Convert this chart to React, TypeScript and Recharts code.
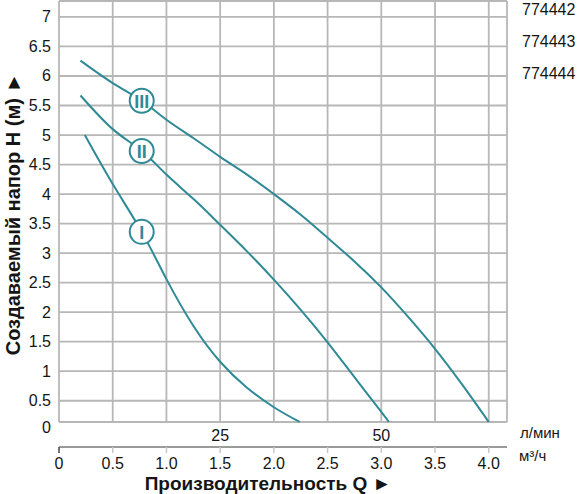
import React from 'react';
import { LineChart, Line, XAxis, YAxis, CartesianGrid, ReferenceArea } from 'recharts';

// flow Q (m³/h) vs head H (m)
const CURVE_I = [
  { q: 0.24, h: 5.0 },
  { q: 0.5, h: 4.17 },
  { q: 0.77, h: 3.36, tag: 'I' },
  { q: 1.0, h: 2.56 },
  { q: 1.25, h: 1.77 },
  { q: 1.5, h: 1.16 },
  { q: 1.75, h: 0.72 },
  { q: 2.0, h: 0.39 },
  { q: 2.24, h: 0.14 },
];

const CURVE_II = [
  { q: 0.2, h: 5.67 },
  { q: 0.5, h: 5.1 },
  { q: 0.77, h: 4.73, tag: 'II' },
  { q: 1.0, h: 4.33 },
  { q: 1.25, h: 3.92 },
  { q: 1.5, h: 3.48 },
  { q: 1.75, h: 3.03 },
  { q: 2.0, h: 2.55 },
  { q: 2.25, h: 2.04 },
  { q: 2.5, h: 1.49 },
  { q: 2.75, h: 0.9 },
  { q: 3.0, h: 0.31 },
  { q: 3.07, h: 0.14 },
];

const CURVE_III = [
  { q: 0.2, h: 6.26 },
  { q: 0.5, h: 5.88 },
  { q: 0.77, h: 5.58, tag: 'III' },
  { q: 1.0, h: 5.26 },
  { q: 1.25, h: 4.95 },
  { q: 1.5, h: 4.63 },
  { q: 1.75, h: 4.33 },
  { q: 2.0, h: 4.0 },
  { q: 2.25, h: 3.65 },
  { q: 2.5, h: 3.26 },
  { q: 2.75, h: 2.86 },
  { q: 3.0, h: 2.42 },
  { q: 3.25, h: 1.92 },
  { q: 3.5, h: 1.38 },
  { q: 3.75, h: 0.78 },
  { q: 4.0, h: 0.14 },
];

const Q_TICKS = [0, 0.5, 1, 1.5, 2, 2.5, 3, 3.5, 4];
const Q_LABELS = ['0', '0.5', '1.0', '1.5', '2.0', '2.5', '3.0', '3.5', '4.0'];
const LPM_TICKS = [1.5, 3.0];
const LPM_LABELS = ['25', '50'];
const H_TICKS = [0, 0.5, 1, 1.5, 2, 2.5, 3, 3.5, 4, 4.5, 5, 5.5, 6, 6.5, 7];
const MODELS = ['774442', '774443', '774444'];

const Q_MAX = 4.17;
const H_MIN = 0.14; // the frame's bottom edge
const H_MAX = 7.27;

const TEAL = '#2f8a96';
const GRID = '#b7b7b7';
const INK = '#151515';
const FONT = '"Liberation Sans", Arial, sans-serif';

const YTick = ({ x, y, payload }: any) => {
  const isZero = payload.value <= H_MIN;
  return (
    <text x={x} y={isZero ? y + 5 : y} textAnchor="end" dominantBaseline="central" fill={INK} fontSize={16} fontFamily={FONT}>
      {isZero ? '0' : String(payload.value)}
    </text>
  );
};

const QTick = ({ x, y, payload }: any) => {
  const i = Q_TICKS.indexOf(payload.value);
  return (
    <g>
      <line x1={x} x2={x} y1={y} y2={y + 6} stroke={i === 0 ? '#444' : '#c8c8c8'} strokeWidth={1.5} />
      <text x={x} y={y + 16} textAnchor="middle" dominantBaseline="central" fill={INK} fontSize={16} fontFamily={FONT}>
        {Q_LABELS[i]}
      </text>
    </g>
  );
};

const LpmTick = ({ x, y, payload }: any) => (
  <text x={x} y={y + 13} textAnchor="middle" dominantBaseline="central" fill={INK} fontSize={16} fontFamily={FONT}>
    {LPM_LABELS[LPM_TICKS.indexOf(payload.value)]}
  </text>
);

const Marker = (props: any) => {
  const { cx, cy, payload, index } = props;
  if (!payload?.tag) return <g key={index} />;
  return (
    <g key={index}>
      <circle cx={cx} cy={cy} r={12} fill="#fff" stroke={TEAL} strokeWidth={2} />
      <text
        x={cx}
        y={cy + 1}
        textAnchor="middle"
        dominantBaseline="central"
        fill={TEAL}
        fontSize={18}
        fontWeight="bold"
        fontFamily={'"Liberation Sans Narrow", "Liberation Sans", sans-serif'}
      >
        {payload.tag}
      </text>
    </g>
  );
};

// both flow axes share one domain; curve I is read against the l/min one
// so that axis gets ticks too (an axis with no series draws none)
const SERIES = [
  { data: CURVE_I, axis: 0 },
  { data: CURVE_II, axis: 'q' },
  { data: CURVE_III, axis: 'q' },
];

export default function App() {
  return (
    <div style={{ position: 'absolute', left: 0, top: 0, width: 578, height: 494, fontFamily: FONT, background: '#fff' }}>
      <LineChart width={578} height={494} margin={{ top: 1, right: 71, bottom: 0, left: 0 }}>
        <CartesianGrid xAxisId="q" stroke={GRID} strokeWidth={1.8} />
        {/* l/min scale sits right under the frame */}
        <XAxis
          type="number"
          dataKey="q"
          domain={[0, Q_MAX]}
          ticks={LPM_TICKS}
          interval={0}
          height={25}
          axisLine={false}
          tickLine={false}
          tickSize={0}
          tickMargin={0}
          tick={<LpmTick />}
        />
        <XAxis
          xAxisId="q"
          type="number"
          dataKey="q"
          domain={[0, Q_MAX]}
          ticks={Q_TICKS}
          interval={0}
          height={47}
          axisLine={{ stroke: '#9a9a9a', strokeWidth: 2 }}
          tickLine={false}
          tickSize={0}
          tickMargin={0}
          tick={<QTick />}
          label={{
            content: () => (
              <text x={268} y={483} textAnchor="middle" dominantBaseline="central" fill={INK} fontSize={19} fontWeight="bold" fontFamily={FONT}>
                Производительность Q ►
              </text>
            ),
          }}
        />
        <YAxis
          type="number"
          domain={[H_MIN, H_MAX]}
          ticks={H_TICKS.map((v) => Math.max(v, H_MIN))}
          interval={0}
          width={59}
          axisLine={false}
          tickLine={false}
          tick={<YTick />}
          label={{
            content: () => (
              <text
                x={13}
                y={214}
                transform="rotate(-90 13 214)"
                textAnchor="middle"
                dominantBaseline="central"
                fill={INK}
                fontSize={20}
                fontWeight="bold"
                fontFamily={FONT}
              >
                Создаваемый напор H (м) ►
              </text>
            ),
          }}
        />
        <ReferenceArea xAxisId="q" fill="none" fillOpacity={0} stroke={INK} strokeWidth={1.5} />
        {SERIES.map((s, i) => (
          <Line
            key={i}
            xAxisId={s.axis}
            data={s.data}
            dataKey="h"
            type="natural"
            stroke={TEAL}
            strokeWidth={2}
            dot={<Marker />}
            activeDot={false}
            isAnimationActive={false}
          />
        ))}
      </LineChart>
      {MODELS.map((m, i) => (
        <span key={m} style={{ position: 'absolute', left: 522, top: 1 + i * 32, fontSize: 16, color: INK, lineHeight: '18px' }}>
          {m}
        </span>
      ))}
      <span style={{ position: 'absolute', left: 520, top: 424, fontSize: 15, color: INK, lineHeight: '18px' }}>л/мин</span>
      <span style={{ position: 'absolute', left: 519, top: 447, fontSize: 15, color: INK, lineHeight: '18px' }}>м³/ч</span>
    </div>
  );
}
